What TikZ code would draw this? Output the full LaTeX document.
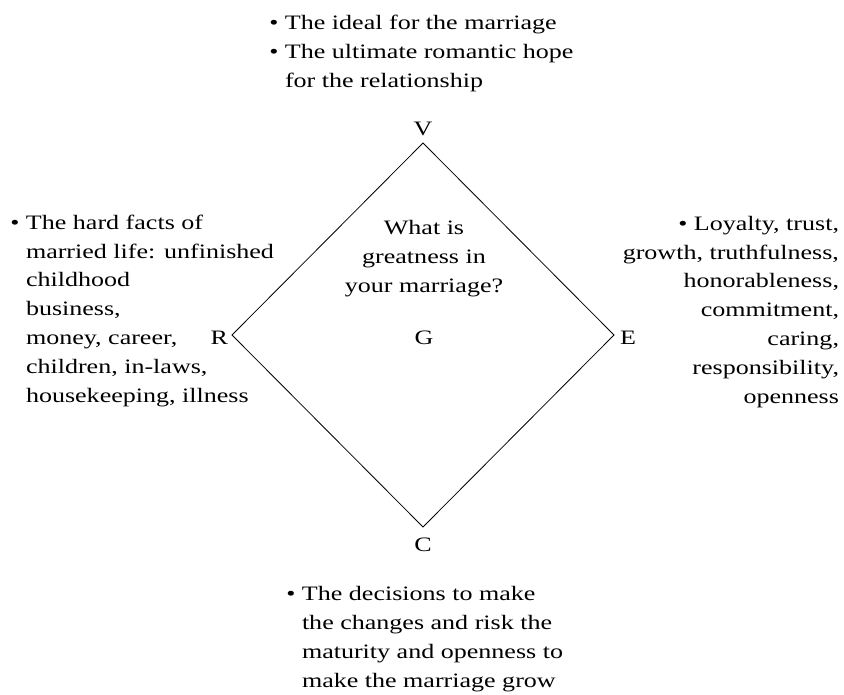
\documentclass[tikz,border=0pt]{standalone}
\usepackage{fontspec}
\setmainfont{Liberation Serif}[FakeStretch=1.27]
\begin{document}
\begin{tikzpicture}[x=1pt,y=-1pt,
  every node/.style={inner sep=0pt, outer sep=0pt},
  txt/.style={font=\fontsize{20.5}{28.8}\selectfont},
  lbl/.style={txt, anchor=base},
  edge/.style={line width=0.8pt, line join=miter}]
  \useasboundingbox (0,0) rectangle (844,694);

  % corner points of the diamond
  \coordinate (top) at (423,143);
  \coordinate (rgt) at (614,335);
  \coordinate (bot) at (423,527);
  \coordinate (lft) at (232,335);
  \draw[edge] (top) -- (rgt) -- (bot) -- (lft) -- cycle;

  % corner letters
  \node[lbl] (V) at (423,135) {V};
  \node[lbl] (C) at (423,551) {C};
  \node[lbl, anchor=base east] (R) at (228,344) {R};
  \node[lbl, anchor=base west] (E) at (620,344) {E};
  \node[lbl] (G) at (424,344) {G};

  % central question (anchored at the baseline of its last line)
  \node[txt, align=center, anchor=base] (question) at (424,292)
    {What is\\greatness in\\your marriage?};

  % bulleted descriptions (anchored at the baseline of their last line)
  \node[txt, align=left, anchor=base west] (vision) at (285,87)
    {\llap{\textbullet\ }The ideal for the marriage\\
     \llap{\textbullet\ }The ultimate romantic hope\\
     for the relationship};

  \node[txt, align=left, anchor=base west] (reality) at (26,402)
    {\llap{\textbullet\ }The hard facts of\\
     married life: unfinished\\
     childhood\\
     business,\\
     money, career,\\
     children, in-laws,\\
     housekeeping, illness};

  \node[txt, align=right, anchor=base east] (ethics) at (839,403)
    {\textbullet\ Loyalty, trust,\\
     growth, truthfulness,\\
     honorableness,\\
     commitment,\\
     caring,\\
     responsibility,\\
     openness};

  \node[txt, align=left, anchor=base west] (courage) at (302,687)
    {\llap{\textbullet\ }The decisions to make\\
     the changes and risk the\\
     maturity and openness to\\
     make the marriage grow};
\end{tikzpicture}
\end{document}
